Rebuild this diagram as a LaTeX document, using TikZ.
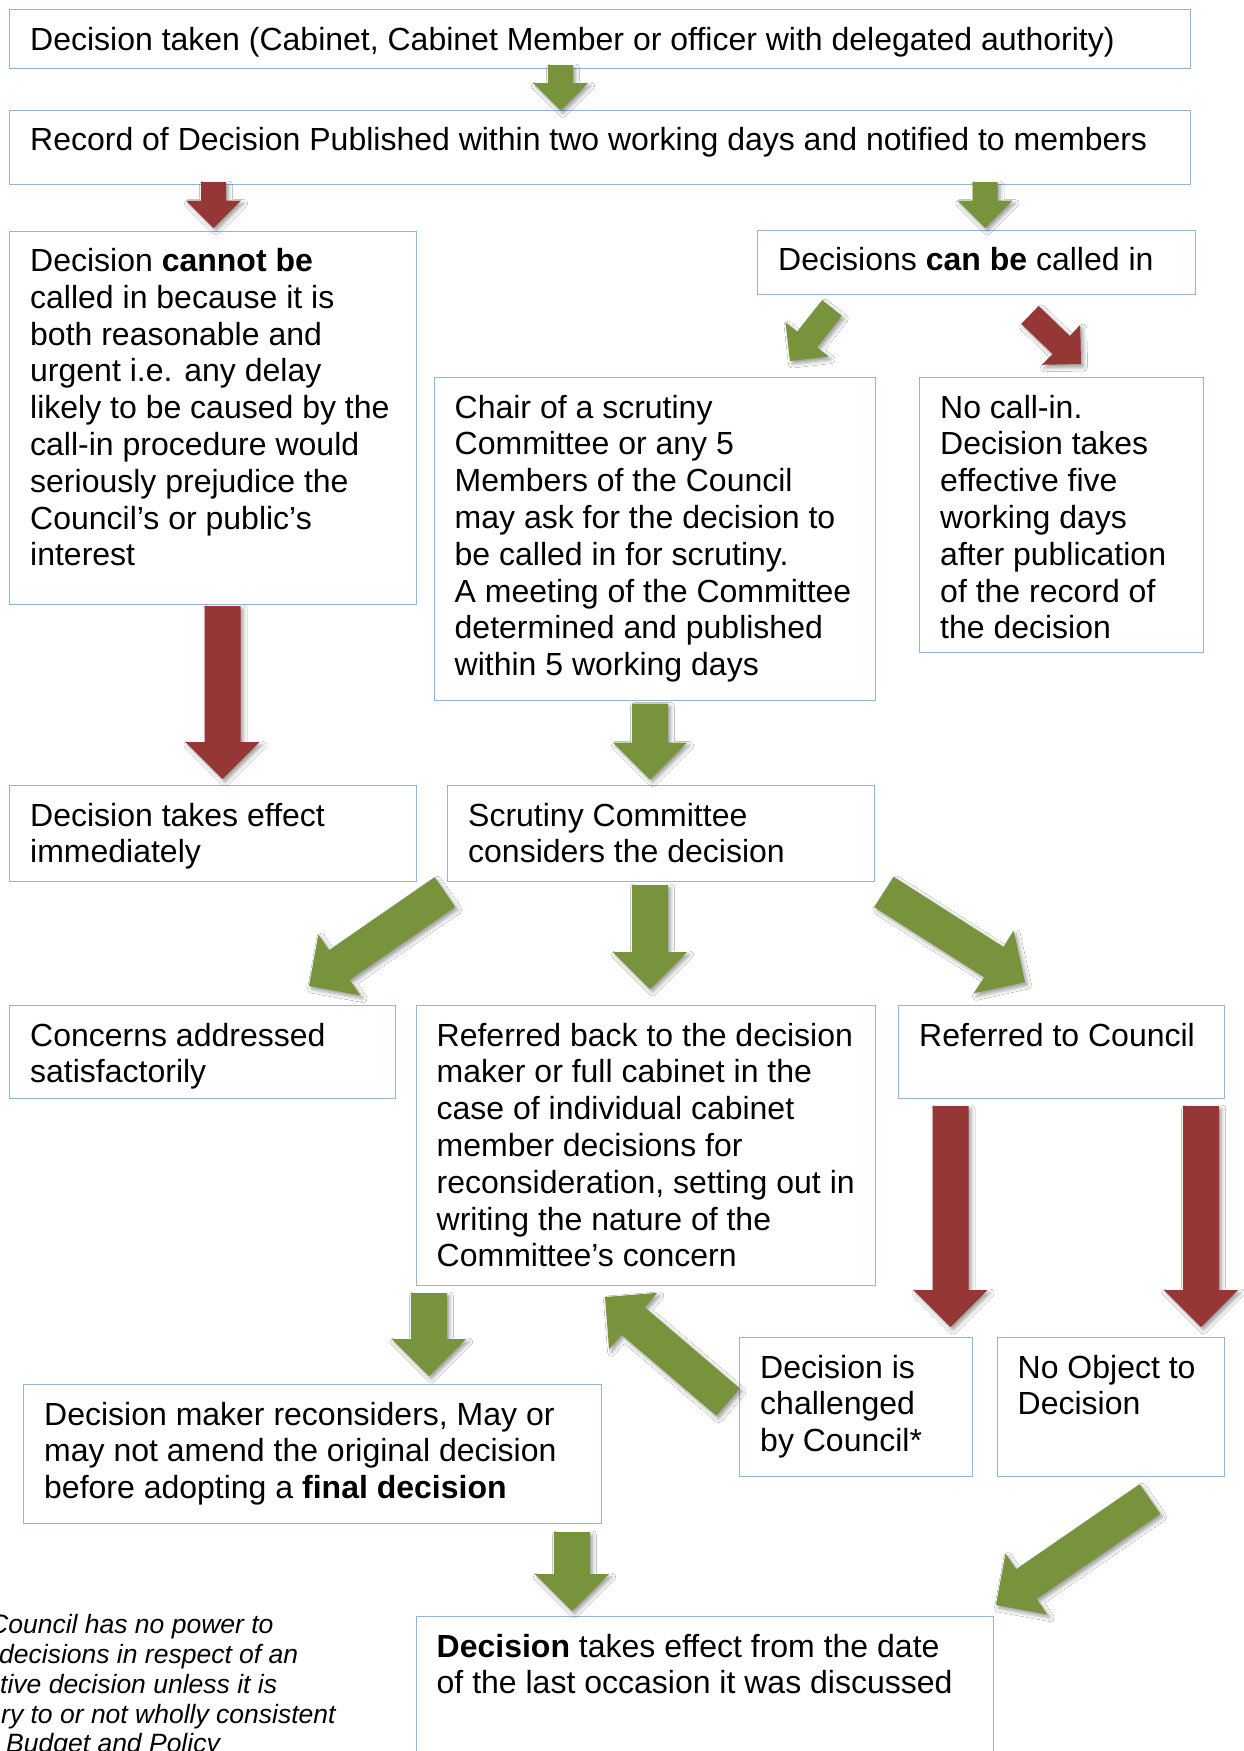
\documentclass[tikz,border=0pt]{standalone}
\usepackage{fontspec}
\setmainfont{Liberation Sans}
\usetikzlibrary{calc,shadows.blur}

\definecolor{arrowgreen}{HTML}{77933C}
\definecolor{arrowred}{HTML}{953735}
\definecolor{boxline}{HTML}{95B3D7}

\newcommand\boxfont{\fontsize{32pt}{36.8pt}\selectfont}
\newcommand\notefont{\fontsize{26.5pt}{30pt}\selectfont\itshape}

% block arrow: style, tail coordinate, tip coordinate, half shaft width, half head width
\newcommand\blockarrow[5]{%
  \coordinate (bab) at ($(#3)!#5pt!(#2)$);
  \path[#1]
    ($(#2)!#4pt!90:(#3)$) -- ($(bab)!#4pt!-90:(#2)$) -- ($(bab)!#5pt!-90:(#2)$)
    -- (#3) -- ($(bab)!#5pt!90:(#2)$) -- ($(bab)!#4pt!90:(#2)$)
    -- ($(#2)!#4pt!-90:(#3)$) -- cycle;
}

\tikzset{
  flowbox/.style={draw=boxline, line width=1.3pt, rectangle, inner sep=0pt, anchor=north west},
  boxtext/.style={anchor=base west, inner sep=0pt, font=\boxfont},
  notetext/.style={anchor=base west, inner sep=0pt, font=\notefont},
  arrowshadow/.style={blur shadow={shadow xshift=2.5pt, shadow yshift=-3pt, shadow blur radius=4pt, shadow opacity=40}},
  goarrow/.style={fill=arrowgreen, arrowshadow},
  stoparrow/.style={fill=arrowred, arrowshadow},
}

\begin{document}
\begin{tikzpicture}[x=1pt, y=-1pt]
\useasboundingbox (0,0) rectangle (1244,1751);
\fill[white] (0,0) rectangle (1244,1751);

% boxes
\node[flowbox, minimum width=1181pt, minimum height=59pt]   (b1)  at (9,9) {};
\node[flowbox, minimum width=1181pt, minimum height=74.5pt] (b2)  at (9,109.5) {};
\node[flowbox, minimum width=406.5pt, minimum height=373.5pt] (b3) at (9,230.5) {};
\node[flowbox, minimum width=438pt, minimum height=64.5pt]  (b4)  at (757,229.5) {};
\node[flowbox, minimum width=441pt, minimum height=323pt]   (b5)  at (433.5,377) {};
\node[flowbox, minimum width=284pt, minimum height=275pt]   (b6)  at (919,377) {};
\node[flowbox, minimum width=406.5pt, minimum height=96pt]  (b7)  at (9,785) {};
\node[flowbox, minimum width=427pt, minimum height=95.5pt]  (b8)  at (447,785) {};
\node[flowbox, minimum width=386pt, minimum height=92.5pt]  (b9)  at (9,1005) {};
\node[flowbox, minimum width=459pt, minimum height=279.5pt] (b10) at (415.5,1005) {};
\node[flowbox, minimum width=326pt, minimum height=92.5pt]  (b11) at (898,1005) {};
\node[flowbox, minimum width=232.5pt, minimum height=139pt] (b12) at (739,1337) {};
\node[flowbox, minimum width=227.5pt, minimum height=139pt] (b13) at (996.5,1337) {};
\node[flowbox, minimum width=578pt, minimum height=139pt]   (b14) at (23,1384) {};
\node[flowbox, minimum width=577pt, minimum height=200pt]   (b15) at (415.5,1616) {};

% box texts
\node[boxtext] (t1) at ($(b1.north west)+(21,41)$) {Decision taken (Cabinet, Cabinet Member or officer with delegated authority)};
\node[boxtext] (t2) at ($(b2.north west)+(21,41)$) {Record of Decision Published within two working days and notified to members};
\node[boxtext] (t3) at ($(b3.north west)+(21,41)$) {\parbox[t]{400pt}{\raggedright
  Decision \textbf{cannot be}\\called in because it is\\both reasonable and\\urgent i.e. any delay\\likely to be caused by the\\call-in procedure would\\seriously prejudice the\\Council’s or public’s\\interest}};
\node[boxtext] (t4) at ($(b4.north west)+(21,41)$) {Decisions \textbf{can be} called in};
\node[boxtext] (t5) at ($(b5.north west)+(21,41)$) {\parbox[t]{430pt}{\raggedright
  Chair of a scrutiny\\Committee or any 5\\Members of the Council\\may ask for the decision to\\be called in for scrutiny.\\A meeting of the Committee\\determined and published\\within 5 working days}};
\node[boxtext] (t6) at ($(b6.north west)+(21,41)$) {\parbox[t]{280pt}{\raggedright
  No call-in.\\Decision takes\\effective five\\working days\\after publication\\of the record of\\the decision}};
\node[boxtext] (t7) at ($(b7.north west)+(21,41)$) {\parbox[t]{400pt}{\raggedright
  Decision takes effect\\immediately}};
\node[boxtext] (t8) at ($(b8.north west)+(21,41)$) {\parbox[t]{420pt}{\raggedright
  Scrutiny Committee\\considers the decision}};
\node[boxtext] (t9) at ($(b9.north west)+(21,41)$) {\parbox[t]{380pt}{\raggedright
  Concerns addressed\\satisfactorily}};
\node[boxtext] (t10) at ($(b10.north west)+(21,41)$) {\parbox[t]{450pt}{\raggedright
  Referred back to the decision\\maker or full cabinet in the\\case of individual cabinet\\member decisions for\\reconsideration, setting out in\\writing the nature of the\\Committee’s concern}};
\node[boxtext] (t11) at ($(b11.north west)+(21,41)$) {Referred to Council};
\node[boxtext] (t12) at ($(b12.north west)+(21,41)$) {\parbox[t]{230pt}{\raggedright
  Decision is\\challenged\\by Council*}};
\node[boxtext] (t13) at ($(b13.north west)+(21,41)$) {\parbox[t]{220pt}{\raggedright
  No Object to\\Decision}};
\node[boxtext] (t14) at ($(b14.north west)+(21,41)$) {\parbox[t]{570pt}{\raggedright
  Decision maker reconsiders, May or\\may not amend the original decision\\before adopting a \textbf{final decision}}};
\node[boxtext] (t15) at ($(b15.north west)+(21,41)$) {\parbox[t]{570pt}{\raggedright
  \textbf{Decision} takes effect from the date\\of the last occasion it was discussed}};

% footnote, running off the left and bottom edges
\node[notetext] (n1) at (-11,1633) {Council has no power to};
\node[notetext] (n2) at (-1,1663) {decisions in respect of an};
\node[notetext] (n3) at (0,1693) {tive decision unless it is};
\node[notetext] (n4) at (1,1723) {ry to or not wholly consistent};
\node[notetext] (n5) at (6,1752) {Budget and Policy};

% arrow end points
\coordinate (a1s) at (560.5,65);   \coordinate (a1e) at (560.5,110.5);
\coordinate (a2s) at (213.5,182);  \coordinate (a2e) at (213.5,228);
\coordinate (a3s) at (985,182);    \coordinate (a3e) at (985,228);
\coordinate (a4s) at (832,308);    \coordinate (a4e) at (790,361);
\coordinate (a5s) at (1030,315);   \coordinate (a5e) at (1081,364);
\coordinate (a6s) at (222.5,606);  \coordinate (a6e) at (222.5,779);
\coordinate (a7s) at (650,703.5);  \coordinate (a7e) at (650,779.5);
\coordinate (a8s) at (445,892);    \coordinate (a8e) at (309,986);
\coordinate (a9s) at (650,885);    \coordinate (a9e) at (650,989);
\coordinate (a10s) at (884,892);   \coordinate (a10e) at (1025,982);
\coordinate (a11s) at (950.5,1106); \coordinate (a11e) at (950.5,1327);
\coordinate (a12s) at (1201,1106); \coordinate (a12e) at (1201,1327);
\coordinate (a13s) at (728,1402);  \coordinate (a13e) at (605,1297);
\coordinate (a14s) at (429,1293);  \coordinate (a14e) at (429,1376);
\coordinate (a15s) at (572,1532);  \coordinate (a15e) at (572,1611);
\coordinate (a16s) at (1150,1499); \coordinate (a16e) at (996,1605);

% small arrows
\blockarrow{goarrow}{a1s}{a1e}{12.5}{27.5}
\blockarrow{stoparrow}{a2s}{a2e}{12.5}{27.5}
\blockarrow{goarrow}{a3s}{a3e}{12.5}{27.5}
\blockarrow{goarrow}{a4s}{a4e}{12.5}{27.5}
\blockarrow{stoparrow}{a5s}{a5e}{12.5}{27.5}
% large arrows
\blockarrow{stoparrow}{a6s}{a6e}{18}{37}
\blockarrow{goarrow}{a7s}{a7e}{18}{37}
\blockarrow{goarrow}{a8s}{a8e}{18}{37}
\blockarrow{goarrow}{a9s}{a9e}{18}{37}
\blockarrow{goarrow}{a10s}{a10e}{18}{37}
\blockarrow{stoparrow}{a11s}{a11e}{18}{37}
\blockarrow{stoparrow}{a12s}{a12e}{18}{37}
\blockarrow{goarrow}{a13s}{a13e}{18}{37}
\blockarrow{goarrow}{a14s}{a14e}{18}{37}
\blockarrow{goarrow}{a15s}{a15e}{18}{37}
\blockarrow{goarrow}{a16s}{a16e}{18}{37}
\end{tikzpicture}
\end{document}
